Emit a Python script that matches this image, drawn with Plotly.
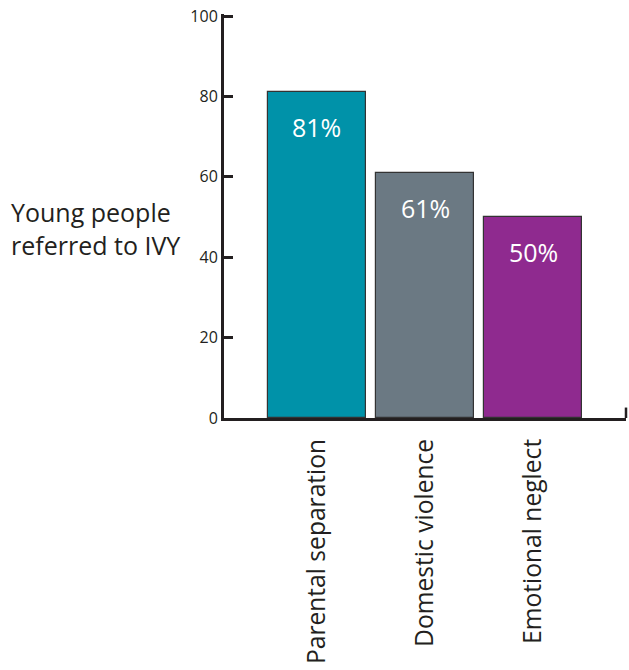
import plotly.graph_objects as go

categories = ["Parental separation", "Domestic violence", "Emotional neglect"]
values = [81, 61, 50]
labels = ["81%", "61%", "50%"]
colors = ["#0092a9", "#6b7983", "#8f2a8f"]
y_ticks = [0, 20, 40, 60, 80, 100]
y_title = "Young people<br>referred to IVY"

FONT = "Open Sans"
AXIS = "#231f20"

fig = go.Figure()
fig.add_trace(go.Bar(
    x=list(range(len(categories))), y=values,
    marker=dict(color=colors, line=dict(color="#333333", width=1.2)),
    width=0.907, hoverinfo="skip",
))

for i, (v, t) in enumerate(zip(values, labels)):
    fig.add_annotation(x=i, y=v, text=t, showarrow=False, yanchor="middle",
                       yshift=-35, font=dict(family=FONT, size=25, color="white"))

fig.add_annotation(xref="paper", yref="paper", x=-0.535, y=0.47, text=y_title,
                   showarrow=False, xanchor="left", yanchor="middle", align="left",
                   font=dict(family=FONT, size=25, color="#231f20"))

fig.add_shape(type="line", xref="x domain", yref="y", x0=1, x1=1, y0=0, y1=2.6,
              line=dict(color=AXIS, width=2.5))

fig.update_layout(
    width=629, height=670,
    margin=dict(l=224, r=3, t=14, b=252),
    paper_bgcolor="white", plot_bgcolor="white",
    showlegend=False, bargap=0,
    font=dict(family=FONT, color="#231f20"),
    xaxis=dict(range=[-0.861, 2.861], tickmode="array",
               tickvals=list(range(len(categories))), ticktext=categories,
               tickangle=-90, tickfont=dict(size=24.6), ticks="",
               ticklabelstandoff=8,
               showline=True, linecolor=AXIS, linewidth=3, showgrid=False,
               zeroline=False, fixedrange=True),
    yaxis=dict(range=[0, 100.5], tickvals=y_ticks, ticks="inside", ticklen=9,
               tickwidth=3, tickcolor=AXIS, tickfont=dict(size=16),
               ticklabeloverflow="allow",
               showline=True, linecolor=AXIS, linewidth=3, showgrid=False,
               zeroline=False, fixedrange=True),
)

fig.write_html("out.html", config={"displayModeBar": False},
               post_script="document.body.style.margin='0px';")
